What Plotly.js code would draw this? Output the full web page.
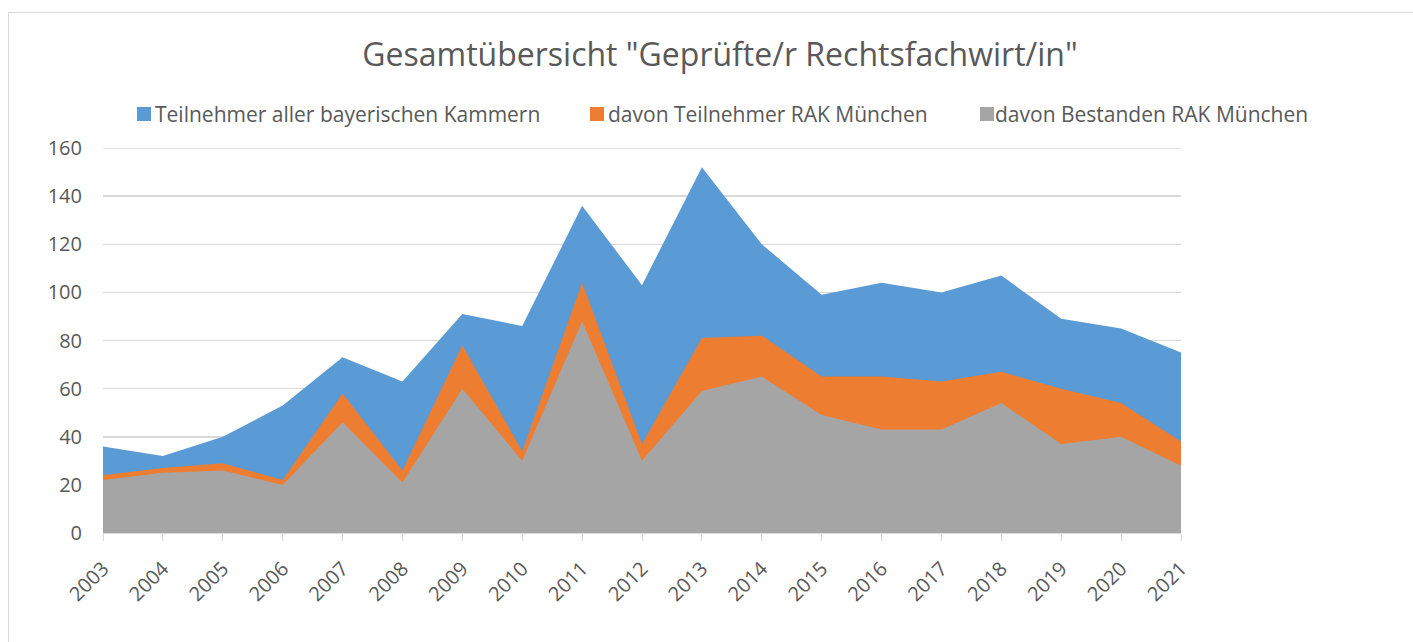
<!DOCTYPE html>
<html>
<head>
<meta charset="utf-8">
<script src="https://cdn.plot.ly/plotly-3.0.1.min.js"></script>
<style>
  html, body { margin: 0; padding: 0; background: #fff; overflow: hidden; }
  #chart { width: 1413px; height: 642px; }
  #frame { position: absolute; left: 8px; top: 12px; width: 1440px; height: 700px;
           border: 1px solid #d9d9d9; pointer-events: none; box-sizing: border-box; }
</style>
</head>
<body>
<div id="chart"></div>
<div id="frame"></div>
<script>
const years = [2003, 2004, 2005, 2006, 2007, 2008, 2009, 2010, 2011, 2012,
               2013, 2014, 2015, 2016, 2017, 2018, 2019, 2020, 2021];
const teilnehmerBayern = [36, 32, 40, 53, 73, 63, 91, 86, 136, 103,
                          152, 120, 99, 104, 100, 107, 89, 85, 75];
const teilnehmerMuenchen = [24, 27, 29, 22, 58, 26, 78, 34, 104, 37,
                            81, 82, 65, 65, 63, 67, 60, 54, 38];
const bestandenMuenchen = [22, 25, 26, 20, 46, 21, 60, 30, 88, 30,
                           59, 65, 49, 43, 43, 54, 37, 40, 28];
const seriesNames = ["Teilnehmer aller bayerischen Kammern",
                     "davon Teilnehmer RAK München",
                     "davon Bestanden RAK München"];
const seriesColors = ["#5B9BD5", "#ED7D31", "#A5A5A5"];
const yTicks = [0, 20, 40, 60, 80, 100, 120, 140, 160];
const chartTitle = 'Gesamtübersicht "Geprüfte/r Rechtsfachwirt/in"';

const font = "'Open Sans', 'DejaVu Sans', sans-serif";
const textColor = "#595959";
const gridColor = "#d9d9d9";

// plot area in pixels
const L = 103, R = 1181, T = 148, B = 533;
const px = x => (x - L) / (R - L);
const py = y => (B - y) / (B - T);

const allSeries = [teilnehmerBayern, teilnehmerMuenchen, bestandenMuenchen];
const traces = allSeries.map((vals, i) => ({
  type: "scatter",
  mode: "lines",
  x: years,
  y: vals,
  name: seriesNames[i],
  fill: "tozeroy",
  fillcolor: seriesColors[i],
  line: { width: 0, color: seriesColors[i] },
  showlegend: false,
  hoverinfo: "skip"
}));

// custom legend (square swatches like the original)
const legendSquares = [137, 590, 980];
const legendTexts = [156, 609, 996];
const shapes = [
  // top gridline at the range edge
  { type: "line", xref: "paper", yref: "y", x0: 0, x1: 1,
    y0: yTicks[yTicks.length - 1], y1: yTicks[yTicks.length - 1],
    line: { color: gridColor, width: 1.5 }, layer: "below" }
];
const annotations = [];
legendSquares.forEach((sx, i) => {
  shapes.push({
    type: "rect", xref: "paper", yref: "paper",
    x0: px(sx), x1: px(sx + 14), y0: py(121), y1: py(107),
    fillcolor: seriesColors[i], line: { width: 0 }
  });
  annotations.push({
    xref: "paper", yref: "paper", x: px(legendTexts[i] - 3), y: py(114),
    xanchor: "left", yanchor: "middle", showarrow: false,
    text: seriesNames[i], font: { family: font, size: 21, color: textColor }
  });
});

const layout = {
  width: 1413, height: 642,
  paper_bgcolor: "#ffffff", plot_bgcolor: "#ffffff",
  margin: { l: L, r: 1413 - R, t: T, b: 642 - B, pad: 0 },
  title: {
    text: chartTitle,
    font: { family: font, size: 32, color: textColor },
    xref: "container", yref: "container",
    x: 720 / 1413, y: 1 - 55 / 642, xanchor: "center", yanchor: "middle"
  },
  showlegend: false,
  xaxis: {
    range: [2003, 2021],
    tickvals: years,
    ticktext: years.map(String),
    tickangle: -45,
    ticks: "outside", ticklen: 7, tickcolor: gridColor, tickwidth: 1,
    ticklabelstandoff: 8,
    showline: true, linecolor: gridColor, linewidth: 1,
    showgrid: false, zeroline: false,
    tickfont: { family: font, size: 20, color: textColor },
    fixedrange: true
  },
  yaxis: {
    range: [0, 160],
    tickvals: yTicks,
    showgrid: true, gridcolor: gridColor, gridwidth: 1.5,
    zeroline: false, showline: false, ticks: "",
    ticklabelstandoff: 20,
    tickfont: { family: font, size: 20, color: textColor },
    fixedrange: true
  },
  shapes: shapes,
  annotations: annotations,
  hovermode: false
};

Plotly.newPlot("chart", traces, layout, { displayModeBar: false, staticPlot: true });
</script>
</body>
</html>
